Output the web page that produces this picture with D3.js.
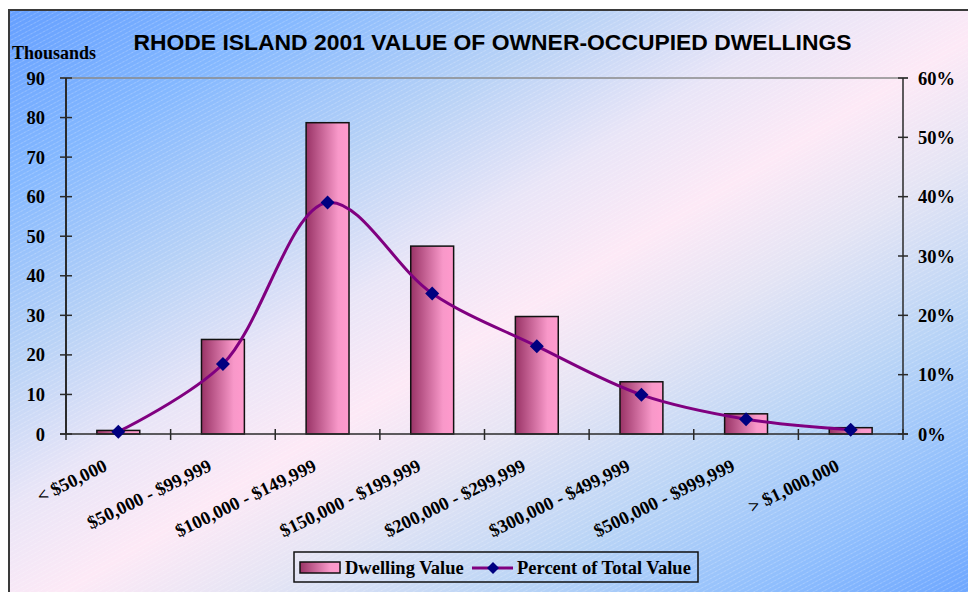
<!DOCTYPE html>
<html>
<head>
<meta charset="utf-8">
<script src="https://cdn.jsdelivr.net/npm/d3@7"></script>
<style>
  html, body { margin: 0; padding: 0; background: #ffffff; }
  svg { display: block; }
</style>
</head>
<body>
<svg id="chart" width="968" height="592"></svg>
<script>
// Value ranges of owner-occupied dwellings
const categories = [
  "< $50,000", "$50,000 - $99,999", "$100,000 - $149,999", "$150,000 - $199,999",
  "$200,000 - $299,999", "$300,000 - $499,999", "$500,000 - $999,999", "> $1,000,000"
];
// Number of dwellings, thousands
const dwellingValue = [0.9, 23.9, 78.7, 47.5, 29.7, 13.2, 5.1, 1.6];
// Share of total value, percent
const percentOfTotal = [0.4, 11.8, 39.0, 23.7, 14.8, 6.6, 2.5, 0.7];
const leftTicks = [0, 10, 20, 30, 40, 50, 60, 70, 80, 90];
const rightTicks = [0, 10, 20, 30, 40, 50, 60];

const title = "RHODE ISLAND 2001 VALUE OF OWNER-OCCUPIED DWELLINGS";
const seriesNames = ["Dwelling Value", "Percent of Total Value"];

const svg = d3.select("#chart");
const W = 968, H = 592;
const plot = { left: 66, right: 903, top: 78, bottom: 434 };
const serif = "'Liberation Serif', 'Times New Roman', serif";
const sans = "'Liberation Sans', Arial, sans-serif";
const labelSize = "18.5px";

const defs = svg.append("defs");

// Diagonal background: blue corners, pale pink band across the middle
const bg = defs.append("linearGradient").attr("id", "bgGrad")
  .attr("x1", 0).attr("y1", 0).attr("x2", 1).attr("y2", 1);
[[0, "#659fff"], [0.15, "#84b8ff"], [0.3, "#b8d2f6"], [0.42, "#e9e5f7"], [0.52, "#fde9f6"],
 [0.62, "#e4e4f4"], [0.75, "#b9d4f6"], [0.88, "#8fbefd"], [1, "#6aa4ff"]]
  .forEach(([o, c]) => bg.append("stop").attr("offset", o).attr("stop-color", c));

// Fine diagonal hatching over the background
const hatch = defs.append("pattern").attr("id", "hatch")
  .attr("patternUnits", "userSpaceOnUse").attr("width", 4).attr("height", 4)
  .attr("patternTransform", "rotate(-28)");
hatch.append("line").attr("x1", 0).attr("y1", 0.5).attr("x2", 4).attr("y2", 0.5)
  .attr("stroke", "#ffffff").attr("stroke-opacity", 0.22).attr("stroke-width", 1)
  .attr("stroke-dasharray", "1.5 1");

// Bar fill: dark rose on the left to pink on the right
const barGrad = defs.append("linearGradient").attr("id", "barGrad")
  .attr("x1", 0).attr("y1", 0).attr("x2", 1).attr("y2", 0);
[[0, "#993366"], [0.75, "#f898c9"], [1, "#ff9acd"]]
  .forEach(([o, c]) => barGrad.append("stop").attr("offset", o).attr("stop-color", c));

// Chart background and frame
svg.append("rect").attr("x", 9).attr("y", 10).attr("width", W).attr("height", H)
  .attr("fill", "url(#bgGrad)");
svg.append("rect").attr("x", 9).attr("y", 10).attr("width", W).attr("height", H)
  .attr("fill", "url(#hatch)");
svg.append("path").attr("d", `M9,${H + 2}V10H${W + 2}`)
  .attr("fill", "none").attr("stroke", "#3a3a3a").attr("stroke-width", 2);

// Scales
const x = d3.scaleBand().domain(categories).range([plot.left, plot.right]).paddingInner(0).paddingOuter(0);
const yL = d3.scaleLinear().domain([0, 90]).range([plot.bottom, plot.top]);
const yR = d3.scaleLinear().domain([0, 60]).range([plot.bottom, plot.top]);
const barW = x.bandwidth() * 0.41;

// Title
svg.append("text").attr("x", 492.5).attr("y", 49.5)
  .attr("text-anchor", "middle")
  .style("font-family", sans).style("font-weight", "bold").style("font-size", "22.9px")
  .attr("fill", "#000").text(title);

// Axis unit label
svg.append("text").attr("x", 12).attr("y", 58.5)
  .style("font-family", serif).style("font-weight", "bold").style("font-size", "18px")
  .attr("fill", "#000").text("Thousands");

// Top edge of the plot area
svg.append("line").attr("x1", plot.left - 6).attr("x2", plot.right + 5)
  .attr("y1", plot.top).attr("y2", plot.top)
  .attr("stroke", "#8a8a8a").attr("stroke-width", 1.6);

// Bars
svg.append("g").selectAll("rect").data(dwellingValue).join("rect")
  .attr("x", (d, i) => x(categories[i]) + (x.bandwidth() - barW) / 2)
  .attr("y", d => yL(d))
  .attr("width", barW)
  .attr("height", d => yL(0) - yL(d))
  .attr("fill", "url(#barGrad)")
  .attr("stroke", "#111").attr("stroke-width", 1.5);

// Left axis
const axisColor = "#2a2a2a";
const gL = svg.append("g");
gL.append("line").attr("x1", plot.left).attr("x2", plot.left)
  .attr("y1", plot.top).attr("y2", plot.bottom)
  .attr("stroke", axisColor).attr("stroke-width", 2);
gL.selectAll("line.tick").data(leftTicks).join("line").attr("class", "tick")
  .attr("x1", plot.left - 6).attr("x2", plot.left + 6)
  .attr("y1", d => yL(d)).attr("y2", d => yL(d))
  .attr("stroke", axisColor).attr("stroke-width", 1.5);
gL.selectAll("text").data(leftTicks).join("text")
  .attr("x", plot.left - 21).attr("y", d => yL(d) + 6.5)
  .attr("text-anchor", "end")
  .style("font-family", serif).style("font-weight", "bold").style("font-size", labelSize)
  .text(d => d);

// Right axis
const gR = svg.append("g");
gR.append("line").attr("x1", plot.right).attr("x2", plot.right)
  .attr("y1", plot.top).attr("y2", plot.bottom)
  .attr("stroke", axisColor).attr("stroke-width", 1.5);
gR.selectAll("line.tick").data(rightTicks).join("line").attr("class", "tick")
  .attr("x1", plot.right - 5).attr("x2", plot.right + 5)
  .attr("y1", d => yR(d)).attr("y2", d => yR(d))
  .attr("stroke", axisColor).attr("stroke-width", 1.5);
gR.selectAll("text").data(rightTicks).join("text")
  .attr("x", plot.right + 15).attr("y", d => yR(d) + 6.5)
  .style("font-family", serif).style("font-weight", "bold").style("font-size", labelSize)
  .text(d => d + "%");

// Category axis
const gX = svg.append("g");
gX.append("line").attr("x1", plot.left - 6).attr("x2", plot.right + 5)
  .attr("y1", plot.bottom).attr("y2", plot.bottom)
  .attr("stroke", axisColor).attr("stroke-width", 1.5);
const bounds = categories.map(c => x(c)).concat([plot.right]);
gX.selectAll("line.tick").data(bounds).join("line").attr("class", "tick")
  .attr("x1", d => d).attr("x2", d => d)
  .attr("y1", plot.bottom - 5).attr("y2", plot.bottom + 6)
  .attr("stroke", axisColor).attr("stroke-width", 1.5);
gX.selectAll("text").data(categories).join("text")
  .attr("transform", d => `translate(${x(d) + x.bandwidth() / 2 - 10},${plot.bottom + 36}) rotate(-26)`)
  .attr("text-anchor", "end")
  .style("font-family", serif).style("font-weight", "bold").style("font-size", labelSize)
  .text(d => d);

// Percent line (smoothed) with diamond markers
const line = d3.line()
  .x((d, i) => x(categories[i]) + x.bandwidth() / 2)
  .y(d => yR(d))
  .curve(d3.curveCatmullRom.alpha(0.5));
svg.append("path").datum(percentOfTotal)
  .attr("d", line)
  .attr("fill", "none").attr("stroke", "#800080").attr("stroke-width", 3);
const diamond = "M0,-7L7,0L0,7L-7,0Z";
svg.append("g").selectAll("path").data(percentOfTotal).join("path")
  .attr("transform", (d, i) => `translate(${x(categories[i]) + x.bandwidth() / 2},${yR(d)})`)
  .attr("d", diamond)
  .attr("fill", "#000080");

// Legend
const lg = svg.append("g");
lg.append("rect").attr("x", 294).attr("y", 552).attr("width", 404).attr("height", 30)
  .attr("fill", "none").attr("stroke", "#111").attr("stroke-width", 1.5);
lg.append("rect").attr("x", 300).attr("y", 562).attr("width", 40).attr("height", 11)
  .attr("fill", "url(#barGrad)").attr("stroke", "#111").attr("stroke-width", 1.5);
lg.append("text").attr("x", 345).attr("y", 574)
  .style("font-family", serif).style("font-weight", "bold").style("font-size", labelSize)
  .text(seriesNames[0]);
lg.append("line").attr("x1", 472).attr("x2", 513).attr("y1", 568).attr("y2", 568)
  .attr("stroke", "#800080").attr("stroke-width", 3);
lg.append("path").attr("transform", "translate(493,568)").attr("d", "M0,-6L6,0L0,6L-6,0Z")
  .attr("fill", "#000080");
lg.append("text").attr("x", 517).attr("y", 574)
  .style("font-family", serif).style("font-weight", "bold").style("font-size", labelSize)
  .text(seriesNames[1]);
</script>
</body>
</html>
